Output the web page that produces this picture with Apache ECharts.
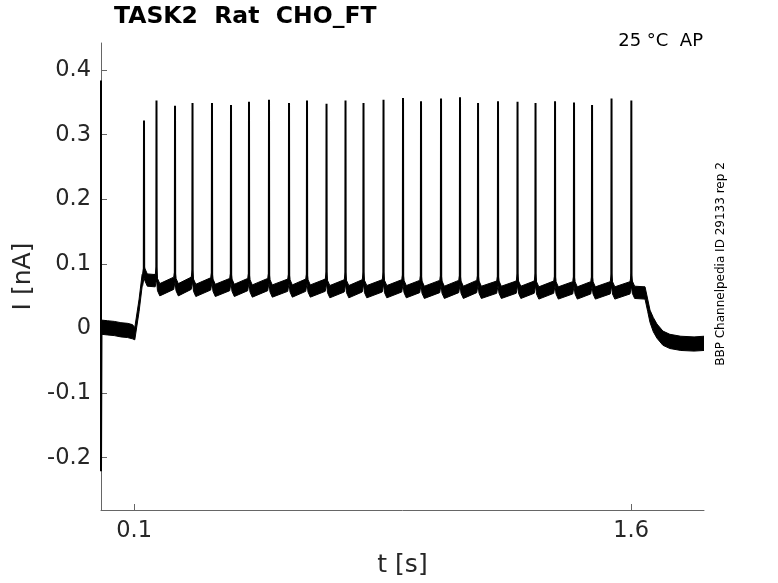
<!DOCTYPE html>
<html lang="en">
<head>
    <meta charset="UTF-8">
    <title>TASK2 Rat CHO_FT</title>
    <style>
        html, body { margin: 0; padding: 0; background: #fff; }
    </style>
</head>
<body>
<div id="m1" style="width: 778px;height: 583px"></div>
<script src="https://cdn.jsdelivr.net/npm/echarts@6.0.0/dist/echarts.min.js"></script>
<script>
    // trace before the step (t in s, I in nA)
    var startT = [0, 0.002, 0.02, 0.04, 0.06, 0.08, 0.095, 0.102, 0.115, 0.124];
    var startI = [0.001, 0.002, 0.001, 0.000, -0.002, -0.003, -0.005, -0.008, 0.036, 0.074];

    // action potentials: time, peak, level just before and after each one
    var spikeT = [0.1298, 0.1675, 0.2234, 0.2762, 0.3350, 0.3924, 0.4467, 0.5071, 0.5675,
        0.6218, 0.6807, 0.7380, 0.7923, 0.8527, 0.9116, 0.9659, 1.0263, 1.0836, 1.1380,
        1.1983, 1.2572, 1.3115, 1.3704, 1.4277, 1.4821, 1.5409, 1.6007];
    var spikePeak = [0.322, 0.353, 0.345, 0.349, 0.349, 0.346, 0.351, 0.354, 0.349,
        0.353, 0.348, 0.353, 0.349, 0.354, 0.357, 0.352, 0.356, 0.358, 0.349,
        0.352, 0.351, 0.349, 0.352, 0.350, 0.346, 0.356, 0.353];
    var preLevel = [0.076, 0.074, 0.070, 0.070, 0.069, 0.068, 0.068, 0.068, 0.067,
        0.067, 0.067, 0.066, 0.066, 0.066, 0.066, 0.065, 0.065, 0.065, 0.065,
        0.064, 0.064, 0.064, 0.064, 0.063, 0.063, 0.063, 0.063];
    var postLevel = [0.075, 0.060, 0.060, 0.059, 0.059, 0.059, 0.058, 0.058, 0.058,
        0.058, 0.057, 0.057, 0.057, 0.057, 0.057, 0.056, 0.056, 0.056, 0.056,
        0.056, 0.056, 0.055, 0.055, 0.055, 0.055, 0.055, 0.056];

    // trace after the step
    var endT = [1.642, 1.650, 1.657, 1.667, 1.678, 1.696, 1.717, 1.75, 1.79, 1.82];
    var endI = [0.055, 0.036, 0.019, 0.006, -0.004, -0.015, -0.020, -0.023, -0.024, -0.023];

    // capacitive transient at the first sample
    var transientT = [0, 0, 0.0015];
    var transientI = [0.384, -0.221, 0.002];

    // half height of the recording noise band
    var noiseRest = 0.011;
    var noiseStim = 0.0095;

    var xTicks = [0.1, 1.6];
    var yTicks = [-0.2, -0.1, 0, 0.1, 0.2, 0.3, 0.4];

    // noise band of the trace
    var bandT = [], bandLo = [], bandHi = [];
    function addBand(t, v, n) {
        bandT.push(t);
        bandLo.push(v - n);
        bandHi.push(v + n);
    }
    for (var i = 0; i < startT.length; i++) {
        addBand(startT[i], startI[i], startT[i] > 0.1 ? noiseStim : noiseRest);
    }
    for (var i = 0; i < spikeT.length; i++) {
        addBand(spikeT[i] - 0.004, preLevel[i], noiseStim);
        addBand(spikeT[i], preLevel[i] + 0.012, noiseStim);
        addBand(spikeT[i] + 0.003, postLevel[i] + 0.008, noiseStim);
        addBand(spikeT[i] + 0.010, postLevel[i], noiseStim);
    }
    for (var i = 0; i < endT.length; i++) {
        addBand(endT[i], endI[i], endT[i] < 1.66 ? noiseStim : noiseRest);
    }
    var bandData = bandT.map(function (t, k) { return [t, bandLo[k], bandHi[k]]; });

    // thin spike strokes, broken between spikes
    var spikeData = [];
    for (var i = 0; i < transientT.length; i++) {
        spikeData.push([transientT[i], transientI[i]]);
    }
    spikeData.push([0.002, '-']);
    for (var i = 0; i < spikeT.length; i++) {
        spikeData.push([spikeT[i] - 0.0006, preLevel[i] + 0.012]);
        spikeData.push([spikeT[i], spikePeak[i]]);
        spikeData.push([spikeT[i] + 0.0006, postLevel[i] + 0.012]);
        spikeData.push([spikeT[i] + 0.001, '-']);
    }

    var font = 'DejaVu Sans';
    var txt = '#262626';
    var axisGray = '#666';

    var my1 = echarts.init(document.getElementById("m1"));
    var option1 = {
        backgroundColor: '#fff',
        animation: false,
        grid: { left: 101, right: 74, top: 43, bottom: 71 },
        xAxis: {
            type: 'value',
            min: 0,
            max: 1.82,
            name: 't [s]',
            nameLocation: 'middle',
            nameGap: 43,
            nameTextStyle: { fontFamily: font, fontSize: 25, color: txt },
            axisLine: { show: true, onZero: false, lineStyle: { color: axisGray, width: 1 } },
            axisTick: { show: true, inside: true, length: 6, customValues: xTicks, lineStyle: { color: axisGray } },
            axisLabel: {
                customValues: xTicks, margin: 10,
                fontFamily: font, fontSize: 22.5, color: txt,
                formatter: function (v) { return String(v); }
            },
            splitLine: { show: false }
        },
        yAxis: {
            type: 'value',
            min: -0.281,
            max: 0.442,
            name: 'I [nA]',
            nameLocation: 'middle',
            nameGap: 58,
            nameTextStyle: { fontFamily: font, fontSize: 25, color: txt },
            axisLine: { show: true, onZero: false, lineStyle: { color: axisGray, width: 1 } },
            axisTick: { show: true, inside: true, length: 6, customValues: yTicks, lineStyle: { color: axisGray } },
            axisLabel: {
                customValues: yTicks, margin: 10,
                fontFamily: font, fontSize: 22.5, color: txt,
                formatter: function (v) { return String(v); }
            },
            splitLine: { show: false }
        },
        graphic: [
            {
                type: 'text', left: 114, top: 5,
                style: { text: 'TASK2  Rat  CHO_FT', font: 'bold 23.5px "DejaVu Sans"', fill: '#000' }
            },
            {
                type: 'text', x: 703, y: 41,
                style: { text: '25 °C  AP', font: '18px "DejaVu Sans"', fill: '#000', align: 'right', verticalAlign: 'middle' }
            },
            {
                type: 'text', x: 721, y: 264, rotation: Math.PI / 2,
                style: { text: 'BBP Channelpedia ID 29133 rep 2', font: '12px "DejaVu Sans"', fill: '#000', align: 'center', verticalAlign: 'middle' }
            }
        ],
        series: [
            {
                name: 'noise',
                type: 'custom',
                clip: true,
                data: bandData,
                renderItem: function (params, api) {
                    if (params.dataIndex !== 0) return;
                    var pts = [];
                    for (var k = 0; k < bandT.length; k++) pts.push(api.coord([bandT[k], bandHi[k]]));
                    for (var k = bandT.length - 1; k >= 0; k--) pts.push(api.coord([bandT[k], bandLo[k]]));
                    return {
                        type: 'polygon',
                        shape: { points: pts },
                        style: { fill: '#000', stroke: '#000', lineWidth: 1 }
                    };
                }
            },
            {
                name: 'spikes',
                type: 'line',
                data: spikeData,
                showSymbol: false,
                connectNulls: false,
                clip: true,
                lineStyle: { color: '#000', width: 2 }
            }
        ]
    };
    my1.setOption(option1);
</script>
</body>
</html>
